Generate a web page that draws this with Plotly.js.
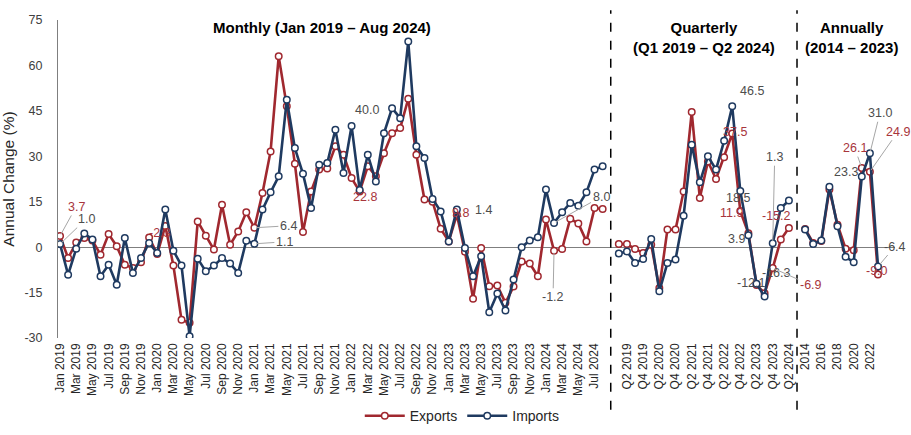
<!DOCTYPE html>
<html>
<head>
<meta charset="utf-8">
<script src="https://cdn.plot.ly/plotly-3.0.1.min.js"></script>
<style>html,body{margin:0;padding:0;background:#fff;}#chart{width:911px;height:435px;}</style>
</head>
<body>
<div id="chart"></div>
<script>
// ---------- DATA ----------
const monthAbbr = ['Jan','Feb','Mar','Apr','May','Jun','Jul','Aug','Sep','Oct','Nov','Dec'];
const monthYears = [2019, 2020, 2021, 2022, 2023, 2024];
const lastMonthCount2024 = 8; // Jan–Aug 2024

const exportsMonthly = [
  3.7, -3.6, 1.5, 3.0, 2.2, -2.5, 4.3, 0.3, -5.8, -6.9, -5.0, 3.2,
  -2.3, 7.0, -6.1, -24.0, -25.0, 8.5, 3.8, -0.8, 14.0, 0.8, 5.2, 11.5,
  6.4, 17.9, 31.6, 63.0, 46.5, 27.5, 5.0, 18.4, 25.6, 26.0, 33.3, 30.5,
  22.8, 18.4, 26.7, 23.4, 31.0, 37.6, 39.3, 49.0, 30.5, 15.7, 15.0, 6.1,
  1.9, 10.7, -1.5, -17.0, -0.3, -12.9, -12.7, -18.4, -13.0, -4.7, -5.4, -9.6,
  9.1, -1.2, -0.6, 9.4, 7.8, 1.9, 12.9, 12.6
];
const importsMonthly = [
  1.0, -9.1, -0.5, 4.5, 2.5, -9.6, -5.8, -12.4, 3.0, -8.5, -3.6, 1.4,
  -1.9, 12.4, -1.2, -6.1, -29.4, -3.8, -8.0, -6.1, -3.6, -5.4, -8.5, 2.1,
  1.1, 12.4, 18.1, 23.4, 48.7, 32.7, 24.2, 12.9, 27.2, 27.8, 38.8, 24.5,
  40.0, 18.9, 30.5, 21.7, 37.6, 45.9, 42.6, 67.9, 33.3, 29.4, 15.9, 11.8,
  1.9, 12.4, -0.3, -9.6, -3.0, -21.5, -15.3, -20.9, -10.7, 0.0, 2.2, 3.3,
  19.0, 8.0, 11.5, 14.6, 13.7, 18.1, 25.6, 26.7
];

const quarters = [
  'Q1 2019','Q2 2019','Q3 2019','Q4 2019',
  'Q1 2020','Q2 2020','Q3 2020','Q4 2020',
  'Q1 2021','Q2 2021','Q3 2021','Q4 2021',
  'Q1 2022','Q2 2022','Q3 2022','Q4 2022',
  'Q1 2023','Q2 2023','Q3 2023','Q4 2023',
  'Q1 2024','Q2 2024'
];
const exportsQuarterly = [1.0, 1.0, -0.6, -1.9, 0.8, -13.5, 5.8, 5.8, 18.4, 44.6, 16.2, 28.3,
                          22.5, 29.7, 37.5, 11.9, 4.6, -12.5, -15.2, -6.9, 2.5, 6.3];
const importsQuarterly = [-2.1, -1.4, -5.2, -3.9, 2.7, -14.6, -5.2, -4.1, 10.4, 33.8, 21.4, 30.0,
                          25.6, 35.1, 46.5, 18.5, 3.9, -12.1, -16.3, 1.3, 12.9, 15.4];

const years = ['2014','2015','2016','2017','2018','2019','2020','2021','2022','2023'];
const exportsAnnual = [6.0, 1.4, 2.0, 19.0, 7.4, -0.5, -1.0, 26.1, 24.9, -9.0];
const importsAnnual = [5.8, 1.0, 2.2, 19.9, 6.9, -3.2, -5.0, 23.3, 31.0, -6.4];

const yTicks = [-30, -15, 0, 15, 30, 45, 60, 75];

// ---------- CATEGORIES ----------
const months = [];
monthYears.forEach(function (y) {
  const n = (y === 2024) ? lastMonthCount2024 : 12;
  for (let m = 0; m < n; m++) months.push(monthAbbr[m] + ' ' + y);
});
const gap1 = ' ', gap2 = '  ';
const allCats = months.concat([gap1], quarters, [gap2], years);

const monthTicks = months.filter(function (_, i) { return i % 2 === 0; });
const quarterTicks = quarters.filter(function (_, i) { return i % 2 === 1; });
const yearTicks = years.filter(function (_, i) { return i % 2 === 0; });
const tickCats = monthTicks.concat(quarterTicks, yearTicks);

const expY = exportsMonthly.concat([null], exportsQuarterly, [null], exportsAnnual);
const impY = importsMonthly.concat([null], importsQuarterly, [null], importsAnnual);

// ---------- STYLE ----------
const RED = '#A0282F';
const NAVY = '#1F3A60';
const RED_TXT = '#A8353C';
const GREY_TXT = '#4D4D4D';
const FONT = 'Liberation Sans, Arial, sans-serif';

function trace(name, y, color) {
  return {
    type: 'scatter', mode: 'lines+markers', name: name,
    x: allCats, y: y, connectgaps: false,
    line: { color: color, width: 2.6 },
    marker: { symbol: 'circle', size: 6.5, color: '#ffffff', line: { color: color, width: 1.5 } },
    hoverinfo: 'x+y+name'
  };
}

function idx(cat) { return allCats.indexOf(cat); }

function label(cat, val, text, color, dx, dy, leader) {
  const a = {
    xref: 'x', yref: 'y', x: idx(cat), y: val, text: text,
    font: { family: FONT, size: 12.5, color: color }
  };
  if (leader) {
    a.showarrow = true; a.arrowhead = 0; a.arrowwidth = 1; a.arrowcolor = '#A6A6A6';
    a.ax = dx; a.ay = dy; a.standoff = 2;
  } else {
    a.showarrow = false; a.xshift = dx; a.yshift = -dy;
  }
  return a;
}

const mi = function (c) { return exportsMonthly[months.indexOf(c)]; };
const mm = function (c) { return importsMonthly[months.indexOf(c)]; };
const qe = function (c) { return exportsQuarterly[quarters.indexOf(c)]; };
const qm = function (c) { return importsQuarterly[quarters.indexOf(c)]; };
const ae = function (c) { return exportsAnnual[years.indexOf(c)]; };
const am = function (c) { return importsAnnual[years.indexOf(c)]; };

const annotations = [
  label('Jan 2019', mi('Jan 2019'), '3.7', RED_TXT, 16, -29, true),
  label('Jan 2019', mm('Jan 2019'), '1.0', GREY_TXT, 26, -25, true),
  label('Jan 2020', mi('Jan 2020'), '-2.3', RED_TXT, 3, -21, false),
  label('Jan 2021', mi('Jan 2021'), '6.4', GREY_TXT, 34, -2, true),
  label('Jan 2021', mm('Jan 2021'), '1.1', GREY_TXT, 30, -2, true),
  label('Jan 2022', mm('Jan 2022'), '40.0', GREY_TXT, 15, -16, false),
  label('Jan 2022', mi('Jan 2022'), '22.8', RED_TXT, 13, 19, false),
  label('Feb 2023', mm('Feb 2023'), '9.8', RED_TXT, 4, 3, false),
  label('Feb 2023', mm('Feb 2023'), '1.4', GREY_TXT, 27, 0, false),
  label('Feb 2024', mm('Feb 2024'), '8.0', GREY_TXT, 47, -26, true),
  label('Feb 2024', mi('Feb 2024'), '-1.2', GREY_TXT, -1, 46, true),

  label('Q3 2022', qm('Q3 2022'), '46.5', GREY_TXT, 20, -15, false),
  label('Q3 2022', qe('Q3 2022'), '37.5', RED_TXT, 3, -2, false),
  label('Q4 2022', qm('Q4 2022'), '18.5', GREY_TXT, -2, 7, false),
  label('Q4 2022', qe('Q4 2022'), '11.9', RED_TXT, -9, 2, false),
  label('Q1 2023', qm('Q1 2023'), '3.9', GREY_TXT, -12, 4, false),
  label('Q2 2023', qm('Q2 2023'), '-12.1', GREY_TXT, -5, -1, false),
  label('Q3 2023', qm('Q3 2023'), '-16.3', GREY_TXT, 12, -24, false),
  label('Q3 2023', qe('Q3 2023'), '-15.2', RED_TXT, 12, -77, false),
  label('Q4 2023', qm('Q4 2023'), '1.3', GREY_TXT, 2, -86, true),
  label('Q4 2023', qe('Q4 2023'), '-6.9', RED_TXT, 38, 17, true),

  label('2021', am('2021'), '23.3', GREY_TXT, -16, -5, false),
  label('2021', ae('2021'), '26.1', RED_TXT, -7, -20, true),
  label('2022', am('2022'), '31.0', GREY_TXT, 10, -40, true),
  label('2022', ae('2022'), '24.9', RED_TXT, 28, -40, true),
  label('2023', am('2023'), '-6.4', GREY_TXT, 17, -20, true),
  label('2023', ae('2023'), '-9.0', RED_TXT, -1, -3, false)
];

// section titles
const titleFont = { family: FONT, size: 15, color: '#000000' };
function sectionTitle(xp, text) {
  return { xref: 'paper', yref: 'paper', x: xp, y: 1.01, xanchor: 'center', yanchor: 'top',
           align: 'center', showarrow: false, text: text, font: titleFont };
}
annotations.push(
  sectionTitle(0.315, '<b>Monthly (Jan 2019 – Aug 2024)</b>'),
  sectionTitle(0.772, '<b>Quarterly</b><br><b>(Q1 2019 – Q2 2024)</b>'),
  sectionTitle(0.948, '<b>Annually</b><br><b>(2014 – 2023)</b>')
);

const shapes = [gap1, gap2].map(function (g) {
  return { type: 'line', xref: 'x', yref: 'paper', x0: idx(g), x1: idx(g), y0: -0.226, y1: 1.031,
           line: { color: '#000000', width: 1.5, dash: 'dash' } };
});

const layout = {
  width: 911, height: 435,
  margin: { l: 58, r: 16, t: 20, b: 97, autoexpand: false },
  paper_bgcolor: '#ffffff', plot_bgcolor: '#ffffff',
  font: { family: FONT, color: '#404040' },
  showlegend: true,
  legend: { orientation: 'h', x: 0.483, xanchor: 'center', y: -0.296, yanchor: 'bottom',
            font: { family: FONT, size: 14, color: '#262626' }, itemwidth: 40, tracegroupgap: 0 },
  xaxis: {
    type: 'category', categoryorder: 'array', categoryarray: allCats,
    range: [-0.25, 103.1], automargin: false,
    tickmode: 'array', tickvals: tickCats, ticktext: tickCats,
    tickangle: -90, tickfont: { family: FONT, size: 12, color: '#262626' },
    showgrid: false, zeroline: false, showline: false, ticks: '', ticklabelstandoff: 2
  },
  yaxis: {
    range: [-30, 75], tickmode: 'array', tickvals: yTicks, ticktext: yTicks.map(String),
    tickfont: { family: FONT, size: 12.5, color: '#404040' },
    showgrid: false, zeroline: true, zerolinecolor: '#7F7F7F', zerolinewidth: 1,
    showline: true, linecolor: '#7F7F7F', linewidth: 1, ticks: '', ticklabelstandoff: 12,
    automargin: false,
    title: { text: 'Annual Change (%)', font: { family: FONT, size: 15.5, color: '#262626' }, standoff: 6 }
  },
  annotations: annotations,
  shapes: shapes
};

Plotly.newPlot('chart', [trace('Exports', expY, RED), trace('Imports', impY, NAVY)], layout,
  { displayModeBar: false, staticPlot: true });
</script>
</body>
</html>
